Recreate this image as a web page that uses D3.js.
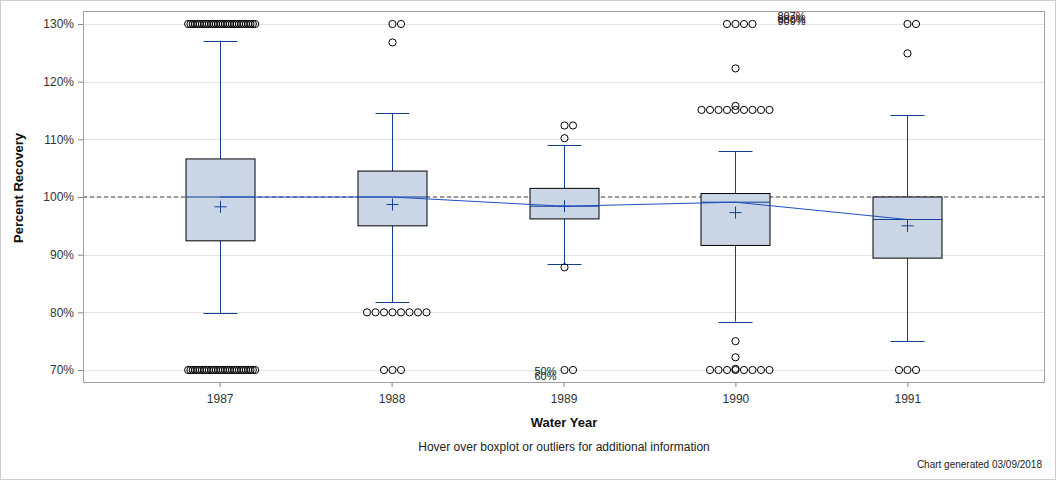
<!DOCTYPE html>
<html><head><meta charset="utf-8">
<script src="https://cdn.jsdelivr.net/npm/d3@7"></script>
<style>body{margin:0;background:#fff}svg{display:block;font-family:"Liberation Sans",Arial,sans-serif}</style>
</head><body><svg id="c" width="1056" height="480"></svg>
<script>
const years = ["1987","1988","1989","1990","1991"];
const q1 = [92.4, 95.0, 96.2, 91.6, 89.4];
const median = [100.0, 100.0, 98.4, 99.1, 96.1];
const q3 = [106.6, 104.5, 101.5, 100.6, 100.0];
const whiskerLow = [79.9, 81.8, 88.3, 78.4, 75.0];
const whiskerHigh = [127.1, 114.5, 109.0, 107.9, 114.2];
const mean = [98.3, 98.7, 98.4, 97.3, 95.0];
const outliers = [
  [130,130,130,130,130,130,130,130,130,130,130,130,130,130,130,130,130,130,130,130,130,130,130,130,130,130,130,130,130,130,
   70,70,70,70,70,70,70,70,70,70,70,70,70,70,70,70,70,70,70,70,70,70,70,70,70,70,70,70,70,70],
  [130,130,126.8,80,80,80,80,80,80,80,80,70,70,70],
  [112.4,112.4,110.2,87.8,70,70],
  [130,130,130,130,122.3,115.8,115.1,115.1,115.1,115.1,115.1,115.1,115.1,115.1,115.1,75.0,72.2,70.2,70,70,70,70,70,70,70,70],
  [130,130,124.9,70,70,70]
];
const offLabels = [
  {year:"1989", texts:["50%","60%"]},
  {year:"1990", texts:["807%","888%","909%"]}
];
const yTicks = [70,80,90,100,110,120,130];
const refValue = 100;

const svg = d3.select("#c");
const L=83, R=1044, T=11, B=382;
const x = d3.scalePoint().domain(years).range([L,R]).padding(0.795);
const y = d3.scaleLinear().domain([70,130]).range([370,24]);
const blue="#123f96", fill="#cad5e5";

svg.append("rect").attr("x",0.5).attr("y",0.5).attr("width",1055).attr("height",479).attr("fill","none").attr("stroke","#cfcfcf");

svg.append("g").selectAll("line").data(yTicks).join("line")
 .attr("x1",L).attr("x2",R).attr("y1",d=>Math.round(y(d))+0.5).attr("y2",d=>Math.round(y(d))+0.5)
 .attr("stroke","#e4e4e4");

const ya = d3.axisLeft(y).tickValues(yTicks).tickFormat(d=>d+"%").tickSize(5).tickPadding(4);
const gy = svg.append("g").attr("transform",`translate(${L},0)`).call(ya);
const xa = d3.axisBottom(x).tickSize(5).tickPadding(7);
const gx = svg.append("g").attr("transform",`translate(0,${B})`).call(xa);
[gy,gx].forEach(g=>{g.select(".domain").remove();g.selectAll("line").attr("stroke","#888");
 g.selectAll("text").attr("font-size",12).attr("fill","#333").attr("font-family","Liberation Sans, Arial, sans-serif");});

svg.append("rect").attr("x",L+0.5).attr("y",T+0.5).attr("width",R-L).attr("height",B-T).attr("fill","none").attr("stroke","#a0a0a0");

svg.append("line").attr("x1",L).attr("x2",R).attr("y1",y(refValue)).attr("y2",y(refValue))
 .attr("stroke","#999").attr("stroke-width",2).attr("stroke-dasharray","4,3");

const bw = 69;
const g = svg.append("g");
years.forEach((yr,i)=>{
  const cx = Math.round(x(yr))+0.5;
  g.append("line").attr("x1",cx).attr("x2",cx).attr("y1",y(whiskerHigh[i])).attr("y2",y(q3[i])).attr("stroke",blue);
  g.append("line").attr("x1",cx).attr("x2",cx).attr("y1",y(q1[i])).attr("y2",y(whiskerLow[i])).attr("stroke",blue);
  [whiskerHigh[i],whiskerLow[i]].forEach(v=>g.append("line").attr("x1",cx-17).attr("x2",cx+17)
     .attr("y1",Math.round(y(v))+0.5).attr("y2",Math.round(y(v))+0.5).attr("stroke",blue));
  g.append("rect").attr("x",cx-bw/2).attr("y",y(q3[i])).attr("width",bw).attr("height",y(q1[i])-y(q3[i]))
   .attr("fill",fill).attr("stroke","#000");
  g.append("line").attr("x1",cx-bw/2).attr("x2",cx+bw/2).attr("y1",y(median[i])).attr("y2",y(median[i])).attr("stroke",blue);
  const my=y(mean[i]);
  g.append("path").attr("d",`M${cx-6},${my}H${cx+6}M${cx},${my-6}V${my+6}`).attr("stroke",blue).attr("fill","none");
  const groups = d3.group(outliers[i], v=>v);
  groups.forEach((arr,v)=>{
    const n=arr.length, sp = n>9 ? 67/(n-1) : 8.5, k0=Math.floor((n-1)/2);
    arr.forEach((_,j)=>{
      g.append("circle").attr("cx",cx+(j-k0)*sp).attr("cy",y(v)).attr("r",3.6)
       .attr("fill","none").attr("stroke","#000").attr("stroke-width",1);
    });
  });
});

svg.append("path").datum(years).attr("fill","none").attr("stroke","#1f4fc0").attr("stroke-width",1)
 .attr("d",d3.line().x(d=>x(d)).y((d,i)=>y(median[i])));

offLabels.forEach(o=>{
  const cx = x(o.year);
  o.texts.forEach((t,j)=>{
    const isTop = o.year==="1990";
    svg.append("text").attr("x", isTop? cx+42 : cx-29).attr("y", isTop? 20+j*2.5 : 375+j*4.5)
      .attr("font-size",11).attr("fill","#222").text(t);
  });
});

svg.append("text").attr("transform","translate(23,188) rotate(-90)").attr("text-anchor","middle")
 .attr("font-size",13).attr("font-weight","bold").attr("fill","#111").text("Percent Recovery");
svg.append("text").attr("x",564).attr("y",427).attr("text-anchor","middle")
 .attr("font-size",13).attr("font-weight","bold").attr("fill","#111").text("Water Year");
svg.append("text").attr("x",564).attr("y",451).attr("text-anchor","middle")
 .attr("font-size",12).attr("fill","#222").text("Hover over boxplot or outliers for additional information");
svg.append("text").attr("x",1042).attr("y",468).attr("text-anchor","end")
 .attr("font-size",10).attr("fill","#222").text("Chart generated 03/09/2018");
</script></body></html>
